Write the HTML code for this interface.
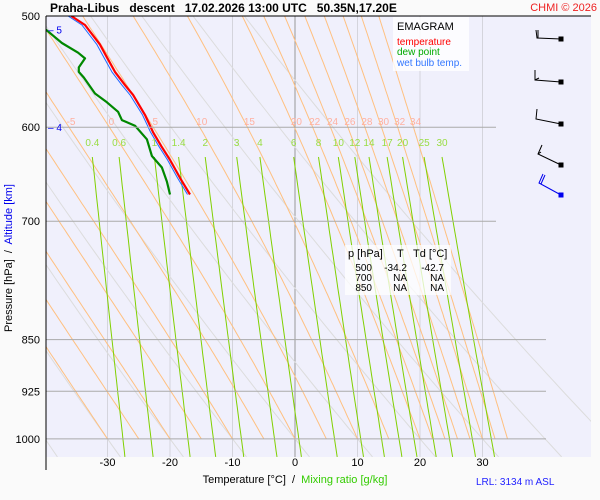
<!DOCTYPE html>
<html><head><meta charset="utf-8"><style>
body{margin:0;background:#fafafa;}
svg{display:block;font-family:"Liberation Sans",sans-serif;}
</style></head><body>
<svg id="c" width="600" height="500" viewBox="0 0 600 500">
<defs><clipPath id="plot"><rect x="46" y="16" width="545" height="441"/></clipPath>
<clipPath id="plot2"><rect x="46" y="16" width="500" height="441"/></clipPath></defs>
<rect x="46" y="16" width="545" height="441" fill="#f0f0fc"/>
<g id="grid" clip-path="url(#plot2)"></g>
<g id="lines" clip-path="url(#plot)"></g>
<g id="labels"></g>
<line x1="46" y1="16" x2="591" y2="16" stroke="#000"/>
<line x1="46" y1="16" x2="46" y2="470" stroke="#000"/>
<text x="50" y="12" font-size="12" font-weight="bold" xml:space="preserve">Praha-Libus   descent   17.02.2026 13:00 UTC   50.35N,17.20E</text>
<text x="597" y="11" font-size="11" fill="#ee2222" text-anchor="end">CHMI © 2026</text>
<text transform="translate(12,258) rotate(-90)" font-size="11" text-anchor="middle" xml:space="preserve">Pressure [hPa]  /  <tspan fill="#0000ee">Altitude [km]</tspan></text>
<text x="295" y="483" font-size="11" text-anchor="middle" xml:space="preserve">Temperature [°C]  /  <tspan fill="#33cc00">Mixing ratio [g/kg]</tspan></text>
<text x="476" y="485" font-size="10" fill="#2222ff">LRL: 3134 m ASL</text>
<g>
<rect x="393" y="17" width="76" height="54" fill="#ffffff" opacity="0.8"/>
<text x="397" y="30" font-size="11">EMAGRAM</text>
<text x="397" y="45" font-size="10" fill="#ff0000">temperature</text>
<text x="397" y="55" font-size="10" fill="#00aa00">dew point</text>
<text x="397" y="66" font-size="10" fill="#3377ff">wet bulb temp.</text>
</g>
<g font-size="10">
<rect x="345" y="245" width="106" height="50" fill="#ffffff" opacity="0.75"/>
<text x="348" y="257" font-size="11">p [hPa]</text><text x="397" y="257" font-size="11">T</text><text x="413" y="257" font-size="11">Td [°C]</text>
<text x="372" y="271" text-anchor="end">500</text><text x="407" y="271" text-anchor="end">-34.2</text><text x="444" y="271" text-anchor="end">-42.7</text>
<text x="372" y="281" text-anchor="end">700</text><text x="407" y="281" text-anchor="end">NA</text><text x="444" y="281" text-anchor="end">NA</text>
<text x="372" y="291" text-anchor="end">850</text><text x="407" y="291" text-anchor="end">NA</text><text x="444" y="291" text-anchor="end">NA</text>
</g>
<g fill="none" stroke-width="1">
<g stroke="#000"><path d="M561 39L537 38L536 30M538 38L538 30"/><rect x="559" y="37" width="4" height="4" fill="#000"/></g>
<g stroke="#000"><path d="M561 82L535 80L535 70M535 80L539 78"/><rect x="559" y="80" width="4" height="4" fill="#000"/></g>
<g stroke="#000"><path d="M561 124L536 119L537 109"/><rect x="559" y="122" width="4" height="4" fill="#000"/></g>
<g stroke="#000"><path d="M561 165L538 154L542 145M538 154L541 152"/><rect x="559" y="163" width="4" height="4" fill="#000"/></g>
<g stroke="#0000ee"><path d="M561 195L539 183L543 174M541 184L545 175"/><rect x="559" y="193" width="4" height="4" fill="#0000ee"/></g>
</g>
<script>
const pTicks=[500,600,700,850,925,1000];
const tTicks=[-30,-20,-10,0,10,20,30];
const wLines=[0.4,0.6,1,1.4,2,3,4,6,8,10,12,14,17,20,25,30];
const thwLines=[-30,-25,-20,-15,-10,-5,0,5,10,15,20,22,24,26,28,30,32,34];
const thwLabeled=[-5,0,5,10,15,20,22,24,26,28,30,32,34];
const dryLines=[-40,-30,-20,-10,0,10,20,30,40,50];
const altLabels=["5","4"];
const altP=[511,600];
const tempP=[500,507.4,524,535,548,560,569,588,605,619,633,652,670];
const tempT=[-35.8,-33.6,-31.2,-30.1,-28.8,-27.2,-25.9,-24,-22.7,-21.4,-20,-18.4,-16.8];
const dewP=[500,511.6,522.6,531,536,544,548,553,567.7,576,585,593,598.5,612,629,641,656,670];
const dewT=[-42.7,-39.8,-37.3,-34.7,-33.6,-34.6,-34.6,-33.8,-32,-30.1,-28.3,-27.7,-25.6,-23.7,-22.9,-21.3,-20.5,-20];
const wbP=[500,507.4,524,535,548,560,569,588,605,619,633,652,670];
const wbT=[-36.3,-34.1,-31.7,-30.6,-29.3,-27.7,-26.4,-24.4,-23.1,-21.8,-20.4,-18.8,-17.2];

const NS="http://www.w3.org/2000/svg";
const yP=p=>16+610*Math.log(p/500);
const xT=t=>295+6.25*t;
const G=document.getElementById('grid'),L=document.getElementById('lines'),LB=document.getElementById('labels');
function mk(tag,at,par){const e=document.createElementNS(NS,tag);for(const k in at)e.setAttribute(k,at[k]);par.appendChild(e);return e;}
function txt(x,y,s,fs,fill,anchor,par){const e=mk('text',{x:x,y:y,'font-size':fs,fill:fill,'text-anchor':anchor},par);e.textContent=s;return e;}
function poly(pts){return pts.map(q=>q[0].toFixed(1)+','+q[1].toFixed(1)).join(' ');}
tTicks.forEach(t=>{const l=mk('line',{x1:xT(t),y1:16,x2:xT(t),y2:457,stroke:t===0?'#999':'#d4d4dc','stroke-width':1},G);


const tl=txt(xT(t),466,String(t),11,'#000','middle',LB);

});
dryLines.forEach(t0=>{const th=t0+273.15;const pts=[];for(let p=500;p<=1030;p+=10){pts.push([xT(th*Math.pow(p/1000,0.286)-273.15),yP(p)]);}
const e=mk('polyline',{points:poly(pts),fill:'none',stroke:'#dcdcdc','stroke-width':1},L);

});
function es(T){return 6.112*Math.exp(17.67*T/(T+243.5));}
function gamma(p,T){const Tk=T+273.15,e=es(T),r=0.622*e/(p-e),Lv=2.5e6,Rd=287,cp=1005;
return (Rd*Tk+Lv*r)/(cp+Lv*Lv*r*0.622/(Rd*Tk*Tk))/p;}
function moist(thw){const res={};let T=thw,p=1000;res[1000]=T;
for(let i=0;i<500;i++){const dp=-1;T+=gamma(p,T)*dp;p+=dp;res[p]=T;}return res;}
thwLines.forEach(thw=>{const m=moist(thw);const pts=[];for(let p=500;p<=1000;p+=5)pts.push([xT(m[p]),yP(p)]);
const e=mk('polyline',{points:poly(pts),fill:'none',stroke:'#ffc080','stroke-width':1},L);


if(thwLabeled.includes(thw)){const x=xT(m[600]);if(x>50&&x<500){const t=txt(x+2,125,String(thw),10,'#ffb0a0','middle',LB);

}}});
function tdw(w,p){const e=w*p/(622+w);const a=Math.log(e/6.112);return 243.5*a/(17.67-a);}
wLines.forEach(w=>{const pts=[];for(let p=630;p<=1030;p+=10)pts.push([xT(tdw(w,p)),yP(p)]);
const e=mk('polyline',{points:poly(pts),fill:'none',stroke:'#80d000','stroke-width':1},L);


const t=txt(xT(tdw(w,630)),146,String(w),10,'#99dd44','middle',LB);

});
pTicks.forEach(p=>{if(p>500){const l=mk('line',{x1:46,y1:yP(p),x2:p<=700?496:546,y2:yP(p),stroke:'#aaa','stroke-width':1},LB);

}
const t=txt(40,yP(p)+4,String(p),11,'#000','end',LB);

});
altLabels.forEach((s,i)=>{const y=yP(altP[i]);const t=txt(48,y+4,'– '+s,10,'#0000ee','start',LB);

});
function prof(P,T,col,w,name){const pts=P.map((p,i)=>[xT(T[i]),yP(p)]);
const e=mk('polyline',{points:poly(pts),fill:'none',stroke:col,'stroke-width':w,'stroke-linejoin':'round'},L);

}
prof(wbP,wbT,'#2266ff',1,'wet-bulb-line');
prof(dewP,dewT,'#008800',2.2,'dew-point-line');
prof(tempP,tempT,'#ff0000',2.2,'temperature-line');
</script>
</svg>
</body></html>
